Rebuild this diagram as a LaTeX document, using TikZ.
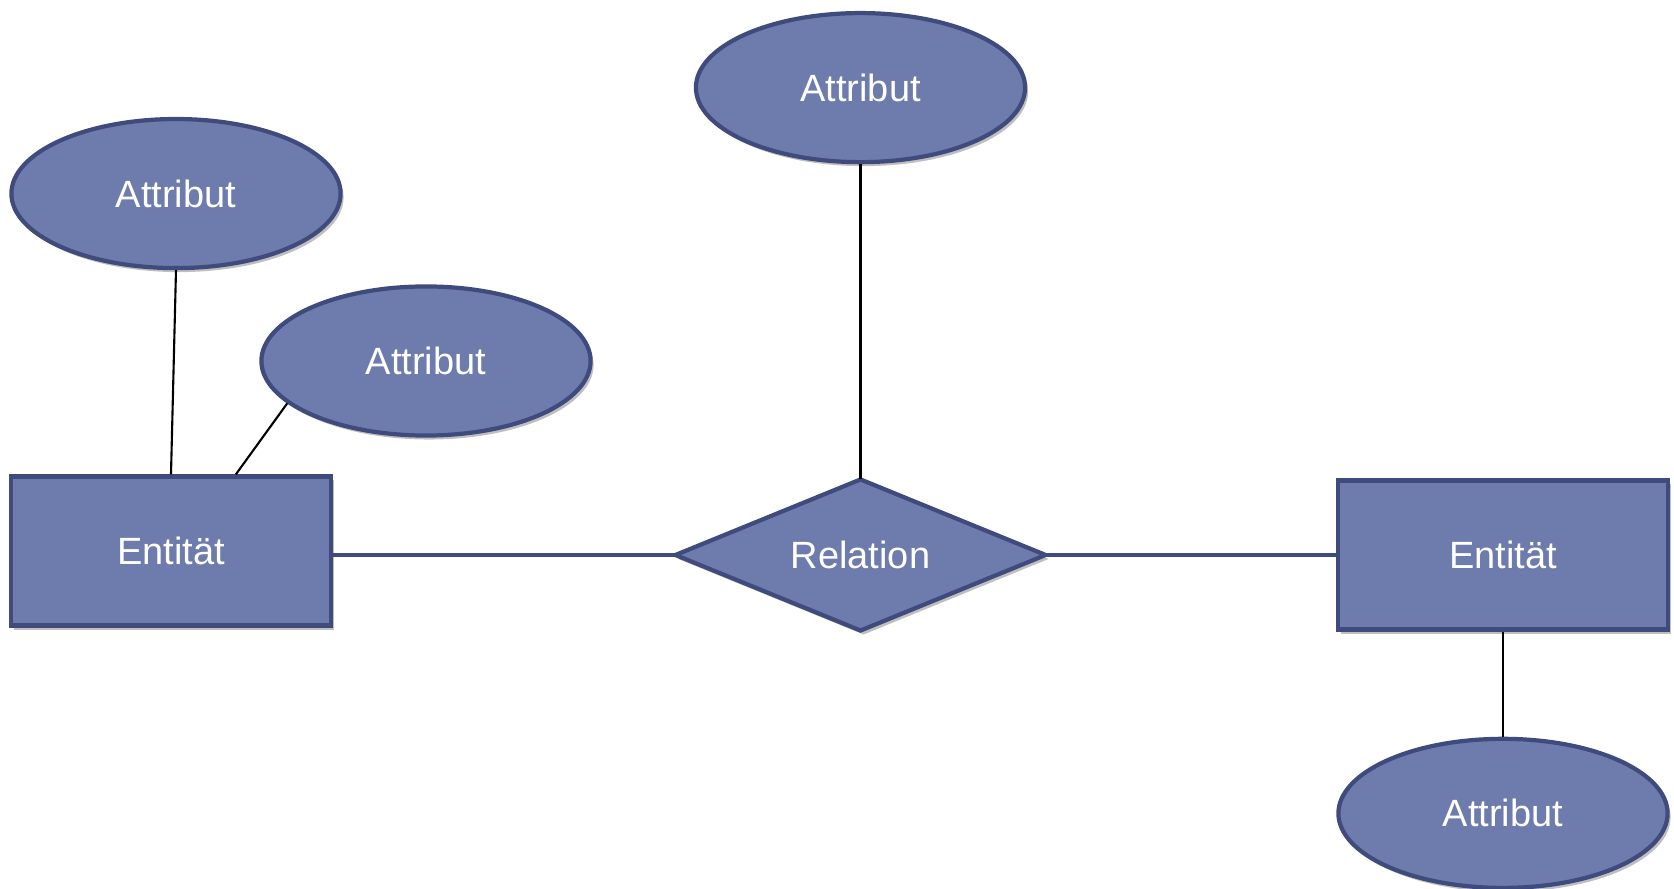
\documentclass[tikz,border=0pt]{standalone}
\usepackage{fontspec}
\setmainfont{Liberation Sans}
\usepackage{tikz}
\usetikzlibrary{positioning,calc,shapes.geometric,shadows}
\definecolor{erfill}{RGB}{110,123,173}
\definecolor{erline}{RGB}{63,75,125}

\begin{document}
\begin{tikzpicture}[x=0.01cm,y=-0.01cm,line width=1.2pt,
                    font=\fontsize{10.8}{13}\selectfont]
  \tikzstyle{er}=[draw=erline,fill=erfill,text=white,inner sep=0pt,
                  drop shadow={shadow xshift=0.03cm,shadow yshift=-0.04cm,opacity=0.25,fill=black}]
  \tikzstyle{entity}=[er,rectangle,minimum width=3.2cm,minimum height=1.49cm]
  \tikzstyle{attr}=[er,ellipse,minimum width=3.29cm,minimum height=1.49cm]
  \tikzstyle{rel}=[er,diamond,aspect=2.43,outer sep=0pt,minimum width=3.7cm,minimum height=1.51cm]
  \tikzstyle{link}=[draw=black,line width=0.6pt]
  \tikzstyle{role}=[draw=erline,line width=1.2pt]

  \useasboundingbox (0,0) rectangle (1674,889);

  \node[rel] (R)      at (860.5,555)               {Relation};
  \node[attr] (AR)    [above=3.15cm of R]          {Attribut};
  \node[entity,minimum width=3.3cm] (E2) [right=2.9cm of R] {Entität};
  \node[attr] (A2)    [below=1.05cm of E2]         {Attribut};
  \node[entity] (E1)  [left=3.42cm of R,yshift=0.04cm] {Entität};
  \node[attr] (A1)    [above=2.04cm of E1,xshift=0.05cm] {Attribut};
  \node[attr] (A3)    at (426,361)                 {Attribut};

  \coordinate (E1top) at ($(E1.north west)!0.7!(E1.north east)$);

  \path
(R.west) edge      [role]        (R.west -| E1.east)
(R.east) edge      [role]        (E2.west)
(AR) edge      [link]        (R.north)
(A1.south) edge      [link]        (E1.north)
(A3.197) edge      [link]        (E1top)
(E2) edge      [link]        (A2);
\end{tikzpicture}
\end{document}
